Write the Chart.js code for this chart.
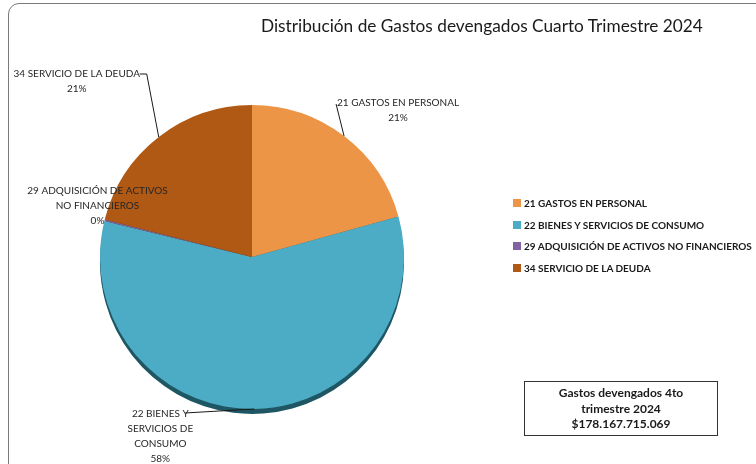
<!DOCTYPE html>
<html>
<head>
<meta charset="utf-8">
<script src="https://cdn.jsdelivr.net/npm/chart.js@4.4.0/dist/chart.umd.min.js"></script>
<style>
    html, body { margin: 0; padding: 0; background: #fff; }
    body { width: 756px; height: 464px; position: relative; overflow: hidden; font-family: Lato, "Open Sans", sans-serif; }
    .marco { position: absolute; left: 8px; top: 3px; width: 780px; height: 475px; border: 1.5px solid #7a7a7a; border-radius: 11px; box-sizing: border-box; }
    #grafico { position: absolute; left: 0; top: 0; }
    .titulo { position: absolute; left: 261px; top: 15px; font-size: 17.25px; color: #1a1a1a; white-space: nowrap; }
    .leyenda { position: absolute; left: 513px; top: 197px; font-size: 10px; font-weight: bold; color: #1a1a1a; }
    .leyenda div { height: 21.5px; white-space: nowrap; }
    .leyenda span { display: inline-block; width: 8px; height: 8px; margin-right: 3px; }
    .total { position: absolute; left: 524px; top: 381px; width: 194px; height: 55px; border: 1.5px solid #333; box-sizing: border-box;
             text-align: center; font-weight: bold; font-size: 12px; line-height: 15.5px; padding-top: 3px; color: #1a1a1a; }
</style>
</head>
<body>
<div class="marco"></div>
<canvas id="grafico" width="756" height="464"></canvas>
<div class="titulo" id="titulo"></div>
<div class="leyenda" id="leyenda"></div>
<div class="total" id="total"></div>

<script>
// ===========================
// Datos (miles de millones de pesos)
// ===========================
const categorias = [
    "21 GASTOS EN PERSONAL",
    "22 BIENES Y SERVICIOS DE CONSUMO",
    "29 ADQUISICIÓN DE ACTIVOS NO FINANCIEROS",
    "34 SERVICIO DE LA DEUDA"
];
const gastos = [36.9, 103.5, 0.3, 37.47];
const colores = ["#ED9547", "#4CABC5", "#8064A2", "#AF5915"];
const coloresSombra = ["#8a5424", "#1f5663", "#4a3a60", "#5e300b"];

const titulo = "Distribución de Gastos devengados Cuarto Trimestre 2024";
const totalLineas = ["Gastos devengados 4to", "trimestre 2024", "$178.167.715.069"];

// Posición de cada etiqueta respecto al punto medio del borde de su porción
const etiquetas = [
    { dx: 54, dy: -26, ancho: 200, guia: [[-8, -32]] },
    { dx: -94, dy: 27, ancho: 72, guia: [[-69, 4]] },
    { dx: -7, dy: -14, ancho: 145, guia: [] },
    { dx: -82, dy: -56, ancho: 200, guia: [[-12, -63], [-19, -63]] }
];

document.getElementById("titulo").textContent = titulo;
document.getElementById("total").innerHTML = totalLineas.join("<br>");
document.getElementById("leyenda").innerHTML = categorias
    .map((c, i) => `<div><span style="background:${colores[i]}"></span>${c}</div>`)
    .join("");

// Sombra inferior (efecto 3D)
const sombraPie = {
    id: "sombraPie",
    beforeDatasetsDraw(chart) {
        const ctx = chart.ctx;
        chart.getDatasetMeta(0).data.forEach((arc, i) => {
            const p = arc.getProps(["x", "y", "startAngle", "endAngle", "outerRadius"], true);
            ctx.save();
            ctx.fillStyle = coloresSombra[i];
            ctx.beginPath();
            ctx.moveTo(p.x, p.y + 5);
            ctx.arc(p.x, p.y + 5, p.outerRadius, p.startAngle, p.endAngle);
            ctx.closePath();
            ctx.fill();
            ctx.restore();
        });
    }
};

// Etiquetas de datos con líneas guía
const etiquetasPie = {
    id: "etiquetasPie",
    afterDatasetsDraw(chart) {
        const ctx = chart.ctx;
        const datos = chart.data.datasets[0].data;
        const suma = datos.reduce((a, b) => a + b, 0);
        ctx.save();
        ctx.font = "10px Lato, 'Open Sans', sans-serif";
        ctx.fillStyle = "#262626";
        ctx.textAlign = "center";
        ctx.textBaseline = "middle";
        chart.getDatasetMeta(0).data.forEach((arc, i) => {
            const p = arc.getProps(["x", "y", "startAngle", "endAngle", "outerRadius"], true);
            const medio = (p.startAngle + p.endAngle) / 2;
            const px = p.x + Math.cos(medio) * p.outerRadius;
            const py = p.y + Math.sin(medio) * p.outerRadius;
            const cfg = etiquetas[i];

            if (cfg.guia.length) {
                ctx.strokeStyle = "#1a1a1a";
                ctx.lineWidth = 1;
                ctx.beginPath();
                ctx.moveTo(px, py);
                cfg.guia.forEach(g => ctx.lineTo(px + g[0], py + g[1]));
                ctx.stroke();
            }

            // partir el texto en líneas
            const palabras = chart.data.labels[i].split(" ");
            const lineas = [];
            let actual = "";
            palabras.forEach(w => {
                const prueba = actual ? actual + " " + w : w;
                if (ctx.measureText(prueba).width > cfg.ancho && actual) {
                    lineas.push(actual);
                    actual = w;
                } else {
                    actual = prueba;
                }
            });
            lineas.push(actual);
            lineas.push(Math.round(datos[i] / suma * 100) + "%");

            const alto = 15;
            const y0 = py + cfg.dy - (lineas.length - 1) * alto / 2;
            lineas.forEach((l, k) => ctx.fillText(l, px + cfg.dx, y0 + k * alto));
        });
        ctx.restore();
    }
};

const ctx = document.getElementById("grafico").getContext("2d");
new Chart(ctx, {
    type: "pie",
    data: {
        labels: categorias,
        datasets: [{
            data: gastos,
            backgroundColor: colores,
            borderWidth: 0
        }]
    },
    options: {
        responsive: false,
        animation: false,
        layout: { padding: { left: 99, right: 351, top: 105, bottom: 55 } },
        plugins: {
            legend: { display: false },
            tooltip: { enabled: false }
        }
    },
    plugins: [sombraPie, etiquetasPie]
});
</script>
</body>
</html>
